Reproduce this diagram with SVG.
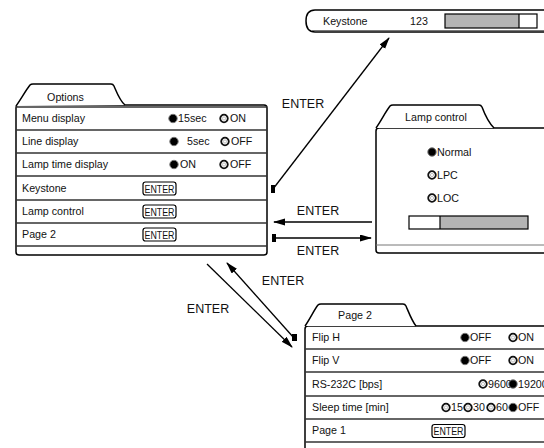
<svg xmlns="http://www.w3.org/2000/svg" xmlns:xlink="http://www.w3.org/1999/xlink" width="544" height="448" viewBox="0 0 544 448">
<style>
.panel{fill:#fff;stroke:#000;stroke-width:1.5}
.sep{stroke:#333;stroke-width:1.5}
.thin{stroke:#777;stroke-width:1}
text{font-family:"Liberation Sans",Arial,sans-serif;fill:#111}
.t{font-size:10.7px}
.lbl{font-size:12.5px}
.btn{fill:#fff;stroke:#000;stroke-width:1.2}
.bt{font-size:10px}
.conn{stroke:#000;stroke-width:1.3;fill:none}
</style>
<defs>
<marker id="ah" markerUnits="userSpaceOnUse" markerWidth="12" markerHeight="8" refX="11" refY="3.5" orient="auto">
<path d="M0,0 L12,3.5 L0,7 Z" fill="#000"/>
</marker>
<g id="on"><circle r="4.2" fill="#000" stroke="#777" stroke-width="1"/></g>
<g id="off"><circle r="3.8" fill="#fff" stroke="#111" stroke-width="1.8"/><circle r="1.6" fill="none" stroke="#999" stroke-width="0.6"/></g>
</defs>
<rect width="544" height="448" fill="#fff"/>

<g id="keystone-panel">
<path class="panel" d="M315,10 L550,10 L550,32 L315,32 Q306,32 306,21 Q306,10 315,10 Z"/>
<line class="thin" x1="312" y1="30.5" x2="550" y2="30.5"/>
<text class="t" x="323" y="25">Keystone</text>
<text class="t" x="410" y="25">123</text>
<rect x="445" y="14" width="74" height="14" fill="#b4b4b4"/>
<rect x="445" y="14" width="92" height="14" fill="none" stroke="#000" stroke-width="1.2"/>
<line x1="519" y1="14" x2="519" y2="28" stroke="#000" stroke-width="1.2"/>
</g>

<g id="options">
<rect class="panel" x="16" y="105" width="251" height="150" rx="3"/>
<path class="panel" d="M16,106 C21,99 26,90 30,85 Q31,84 33,84 L111,84 Q113,84 114,86 C117,93 120,101 125,105"/>
<line class="sep" x1="16" y1="107" x2="267" y2="107"/>
<line class="sep" x1="16" y1="130" x2="267" y2="130"/>
<line class="sep" x1="16" y1="153" x2="267" y2="153"/>
<line class="sep" x1="16" y1="176" x2="267" y2="176"/>
<line class="sep" x1="16" y1="200" x2="267" y2="200"/>
<line class="sep" x1="16" y1="223" x2="267" y2="223"/>
<line class="sep" x1="16" y1="246" x2="267" y2="246"/>
<text class="t" x="65.5" y="101" text-anchor="middle">Options</text>
<text class="t" x="22" y="122">Menu display</text>
<text class="t" x="22" y="145">Line display</text>
<text class="t" x="22" y="168">Lamp time display</text>
<text class="t" x="22" y="192">Keystone</text>
<text class="t" x="22" y="215">Lamp control</text>
<text class="t" x="22" y="238">Page 2</text>
<use xlink:href="#on" x="173" y="118.5"/><text class="t" x="178" y="122">15sec</text>
<use xlink:href="#off" x="224" y="118.5"/><text class="t" x="230" y="122">ON</text>
<use xlink:href="#on" x="174" y="141.5"/><text class="t" x="187" y="145">5sec</text>
<use xlink:href="#off" x="225" y="141.5"/><text class="t" x="231" y="145">OFF</text>
<use xlink:href="#on" x="174" y="164.5"/><text class="t" x="180" y="168">ON</text>
<use xlink:href="#off" x="224" y="164.5"/><text class="t" x="230" y="168">OFF</text>
<rect class="btn" x="143" y="182" width="33" height="13" rx="2.5"/><text class="bt" x="144.5" y="192.5" textLength="30" lengthAdjust="spacingAndGlyphs">ENTER</text>
<rect class="btn" x="143" y="205" width="33" height="13" rx="2.5"/><text class="bt" x="144.5" y="215.5" textLength="30" lengthAdjust="spacingAndGlyphs">ENTER</text>
<rect class="btn" x="143" y="228" width="33" height="13" rx="2.5"/><text class="bt" x="144.5" y="238.5" textLength="30" lengthAdjust="spacingAndGlyphs">ENTER</text>
</g>

<g id="lamp-control">
<rect class="panel" x="376" y="128" width="180" height="125" rx="3"/>
<path class="panel" d="M376,128 C381,121 386,111 390,106 Q391,105 393,105 L479,105 Q481,105 482,107 C485,115 489,123 494,128"/>
<line class="thin" x1="376" y1="245" x2="550" y2="245"/>
<text class="t" x="436" y="121" text-anchor="middle">Lamp control</text>
<use xlink:href="#on" x="432" y="152"/><text class="t" x="437" y="156">Normal</text>
<use xlink:href="#off" x="432" y="175"/><text class="t" x="437" y="179">LPC</text>
<use xlink:href="#off" x="432" y="198"/><text class="t" x="437" y="202">LOC</text>
<rect x="440" y="216" width="88" height="13" fill="#b4b4b4"/>
<rect x="409" y="216" width="119" height="13" fill="none" stroke="#000" stroke-width="1.2"/>
<line x1="440" y1="216" x2="440" y2="229" stroke="#000" stroke-width="1.2"/>
</g>

<g id="page2">
<rect class="panel" x="305" y="326" width="260" height="140" rx="3"/>
<path class="panel" d="M305,326 C310,319 314,310 318,305 Q319,304 321,304 L403,304 Q405,304 406,306 C409,313 412,321 416,326"/>
<line class="sep" x1="305" y1="349" x2="550" y2="349"/>
<line class="sep" x1="305" y1="372" x2="550" y2="372"/>
<line class="sep" x1="305" y1="396" x2="550" y2="396"/>
<line class="sep" x1="305" y1="419" x2="550" y2="419"/>
<line class="sep" x1="305" y1="442" x2="550" y2="442"/>
<text class="t" x="355" y="319" text-anchor="middle">Page 2</text>
<text class="t" x="312" y="341">Flip H</text>
<text class="t" x="312" y="364">Flip V</text>
<text class="t" x="312" y="388">RS-232C [bps]</text>
<text class="t" x="312" y="411">Sleep time [min]</text>
<text class="t" x="312" y="434">Page 1</text>
<use xlink:href="#on" x="465" y="337.5"/><text class="t" x="470" y="341">OFF</text>
<use xlink:href="#off" x="513" y="337.5"/><text class="t" x="518" y="341">ON</text>
<use xlink:href="#on" x="465" y="360.5"/><text class="t" x="470" y="364">OFF</text>
<use xlink:href="#off" x="513" y="360.5"/><text class="t" x="518" y="364">ON</text>
<use xlink:href="#off" x="483" y="384"/><text class="t" x="488" y="388">9600</text>
<use xlink:href="#on" x="513" y="384"/><text class="t" x="518" y="388">19200</text>
<use xlink:href="#off" x="446" y="407.5"/><text class="t" x="451" y="411">15</text>
<use xlink:href="#off" x="468" y="407.5"/><text class="t" x="473" y="411">30</text>
<use xlink:href="#off" x="491" y="407.5"/><text class="t" x="496" y="411">60</text>
<use xlink:href="#on" x="513" y="407.5"/><text class="t" x="518" y="411">OFF</text>
<rect class="btn" x="432" y="424.5" width="33" height="13" rx="2.5"/><text class="bt" x="433.5" y="435" textLength="30" lengthAdjust="spacingAndGlyphs">ENTER</text>
</g>

<g id="connectors">
<line class="conn" x1="273" y1="189" x2="389" y2="38" marker-end="url(#ah)"/>
<rect x="271" y="185" width="4" height="8" fill="#000"/>
<text class="lbl" x="303" y="108" text-anchor="middle">ENTER</text>
<line class="conn" x1="372" y1="222" x2="274" y2="222" marker-end="url(#ah)"/>
<text class="lbl" x="318" y="215" text-anchor="middle">ENTER</text>
<line class="conn" x1="274" y1="238" x2="371" y2="238" marker-end="url(#ah)"/>
<rect x="272" y="234" width="4" height="8" fill="#000"/>
<text class="lbl" x="318" y="255" text-anchor="middle">ENTER</text>
<line class="conn" x1="207" y1="264" x2="292" y2="347" marker-end="url(#ah)"/>
<text class="lbl" x="208" y="313" text-anchor="middle">ENTER</text>
<line class="conn" x1="294" y1="338" x2="227" y2="263" marker-end="url(#ah)"/>
<rect x="292" y="334" width="5" height="7" fill="#000"/>
<text class="lbl" x="283" y="285" text-anchor="middle">ENTER</text>
</g>
</svg>
